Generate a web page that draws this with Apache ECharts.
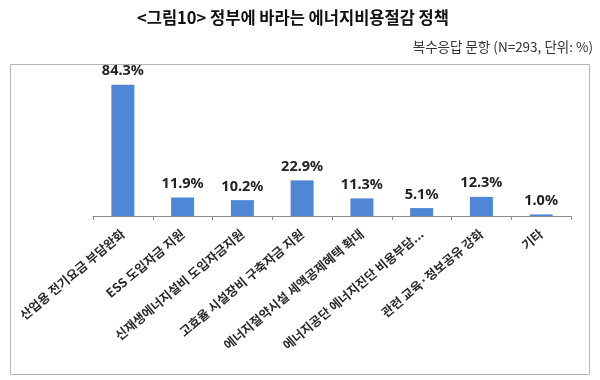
<!DOCTYPE html>
<html><head><meta charset="utf-8">
<script src="https://cdn.jsdelivr.net/npm/echarts@6/dist/echarts.min.js"></script>
<style>html,body{margin:0;padding:0;background:#fff}#c{width:600px;height:380px}</style>
</head><body><div id="c"></div>
<script>
const titleText = '<그림10> 정부에 바라는 에너지비용절감 정책';
const noteText = '복수응답 문항 (N=293, 단위: %)';
const categories = [
  '산업용 전기요금 부담완화',
  'ESS 도입자금 지원',
  '신재생에너지설비 도입자금지원',
  '고효율 시설장비 구축자금 지원',
  '에너지절약시설 세액공제혜택 확대',
  '에너지공단 에너지진단 비용부담...',
  '관련 교육·정보공유 강화',
  '기타'
];
const values = [84.3, 11.9, 10.2, 22.9, 11.3, 5.1, 12.3, 1.0];

const chart = echarts.init(document.getElementById('c'));
chart.setOption({
  animation: false,
  graphic: [
    {type: 'rect', left: 8, top: 62, shape: {width: 579, height: 310},
     style: {fill: 'none', stroke: '#b5b5b5', lineWidth: 1}, z: -1},
    {type: 'text', left: 137, top: 9,
     style: {text: titleText, fontFamily: 'Noto Sans CJK KR', fontWeight: 'bold', fontSize: 16.5, fill: '#111'}},
    {type: 'text', right: 7, top: 40,
     style: {text: noteText, fontFamily: 'Noto Sans CJK KR', fontSize: 13.5, fill: '#333'}}
  ],
  grid: {left: 93, right: 29, top: 76, height: 140},
  xAxis: {
    type: 'category', data: categories,
    axisLine: {lineStyle: {color: '#8c8c8c'}},
    axisTick: {show: true, alignWithLabel: false, length: 4, lineStyle: {color: '#8c8c8c'}},
    axisLabel: {rotate: 40, interval: 0, margin: 16, fontFamily: 'Noto Sans CJK KR', fontWeight: 'bold', fontSize: 12.5, color: '#2a2a2a'}
  },
  yAxis: {type: 'value', min: 0, max: 90, show: false},
  series: [{
    type: 'bar', data: values, barWidth: 23,
    itemStyle: {color: '#4f86d6'},
    label: {show: true, position: 'top', distance: 6, formatter: p => p.value.toFixed(1) + '%',
            fontFamily: 'Noto Sans', fontWeight: 'bold', fontSize: 14.5, color: '#222'}
  }]
});
</script></body></html>
